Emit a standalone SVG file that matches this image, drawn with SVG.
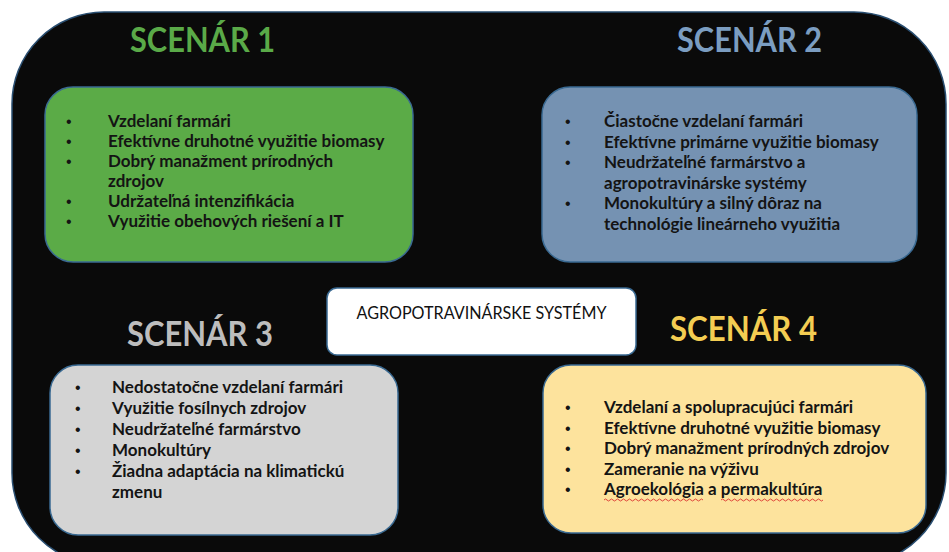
<svg xmlns="http://www.w3.org/2000/svg" width="949" height="552" viewBox="0 0 949 552">
<style>
.box{stroke:#3a6a92;stroke-width:1.5}
.title{font-family:Lato,"Open Sans","Liberation Sans",sans-serif;font-weight:bold;font-size:35px}
.item{font-family:Lato,"Open Sans","Liberation Sans",sans-serif;font-weight:bold;font-size:17px;fill:#141414}
.bul{font-family:"Liberation Sans",sans-serif;font-size:16px;fill:#141414}
.center{font-family:Lato,"Liberation Sans",sans-serif;font-size:17px;fill:#111}
.squig{fill:none;stroke:#e0443a;stroke-width:1}
</style>
<rect width="949" height="552" fill="#ffffff"/>
<g id="frame">
<rect x="12" y="12" width="934" height="553" rx="92" ry="92" fill="#0a0a0a" stroke="#2a4f72" stroke-width="1.5"/>
</g>
<g id="connectors"></g>
<g id="scenar1">
<text class="title" x="130" y="52" fill="#5aaa48" textLength="145" lengthAdjust="spacingAndGlyphs">SCENÁR 1</text>
<rect class="box" x="45" y="87" width="368" height="175" rx="28" fill="#5bab47"/>
<text class="bul" x="66" y="127">•</text>
<text class="bul" x="66" y="147">•</text>
<text class="bul" x="66" y="167">•</text>
<text class="bul" x="66" y="207">•</text>
<text class="bul" x="66" y="227">•</text>
<text class="item" x="108" y="127">Vzdelaní farmári</text>
<text class="item" x="108" y="147">Efektívne druhotné využitie biomasy</text>
<text class="item" x="108" y="167">Dobrý manažment prírodných</text>
<text class="item" x="108" y="187">zdrojov</text>
<text class="item" x="108" y="207">Udržateľná intenzifikácia</text>
<text class="item" x="108" y="227">Využitie obehových riešení a IT</text>
</g>
<g id="scenar2">
<text class="title" x="677" y="52" fill="#7b9dc1" textLength="145" lengthAdjust="spacingAndGlyphs">SCENÁR 2</text>
<rect class="box" x="542" y="87" width="375" height="175" rx="28" fill="#7592b2"/>
<text class="bul" x="565" y="127">•</text>
<text class="bul" x="565" y="147.5">•</text>
<text class="bul" x="565" y="168">•</text>
<text class="bul" x="565" y="209">•</text>
<text class="item" x="604" y="127">Čiastočne vzdelaní farmári</text>
<text class="item" x="604" y="147.5">Efektívne primárne využitie biomasy</text>
<text class="item" x="604" y="168">Neudržateľné farmárstvo a</text>
<text class="item" x="604" y="188.5">agropotravinárske systémy</text>
<text class="item" x="604" y="209">Monokultúry a silný dôraz na</text>
<text class="item" x="604" y="229.5">technológie lineárneho využitia</text>
</g>
<g id="center">
<rect x="327" y="288" width="309" height="67" rx="10" fill="#ffffff" stroke="#3a6a92" stroke-width="1.5"/>
<text class="center" x="481.5" y="319" text-anchor="middle" textLength="250" lengthAdjust="spacingAndGlyphs">AGROPOTRAVINÁRSKE SYSTÉMY</text>
</g>
<g id="scenar3">
<text class="title" x="127" y="346" fill="#bdbdbd" textLength="146" lengthAdjust="spacingAndGlyphs">SCENÁR 3</text>
<rect class="box" x="50" y="365" width="348" height="170" rx="28" fill="#d4d4d4"/>
<text class="bul" x="75" y="393">•</text>
<text class="bul" x="75" y="414">•</text>
<text class="bul" x="75" y="435">•</text>
<text class="bul" x="75" y="456">•</text>
<text class="bul" x="75" y="477">•</text>
<text class="item" x="112" y="393">Nedostatočne vzdelaní farmári</text>
<text class="item" x="112" y="414">Využitie fosílnych zdrojov</text>
<text class="item" x="112" y="435">Neudržateľné farmárstvo</text>
<text class="item" x="112" y="456">Monokultúry</text>
<text class="item" x="112" y="477">Žiadna adaptácia na klimatickú</text>
<text class="item" x="112" y="498">zmenu</text>
</g>
<g id="scenar4">
<text class="title" x="670" y="341" fill="#f4cd52" textLength="147" lengthAdjust="spacingAndGlyphs">SCENÁR 4</text>
<rect class="box" x="543" y="365" width="383" height="168" rx="28" fill="#fde39d"/>
<text class="bul" x="565" y="413">•</text>
<text class="bul" x="565" y="433.5">•</text>
<text class="bul" x="565" y="454">•</text>
<text class="bul" x="565" y="474.5">•</text>
<text class="bul" x="565" y="495">•</text>
<text class="item" x="604" y="413">Vzdelaní a spolupracujúci farmári</text>
<text class="item" x="604" y="433.5">Efektívne druhotné využitie biomasy</text>
<text class="item" x="604" y="454">Dobrý manažment prírodných zdrojov</text>
<text class="item" x="604" y="474.5">Zameranie na výživu</text>
<text class="item" x="604" y="495">Agroekológia a permakultúra</text>
<path class="squig" d="M604 500 q1.5 -2 3 0 t3 0 t3 0 t3 0 t3 0 t3 0 t3 0 t3 0 t3 0 t3 0 t3 0 t3 0 t3 0 t3 0 t3 0 t3 0 t3 0 t3 0 t3 0 t3 0 t3 0 t3 0 t3 0 t3 0 t3 0 t3 0 t3 0 t3 0 t3 0 t3 0 t3 0 t3 0 t3 0"/>
<path class="squig" d="M721 500 q1.5 -2 3 0 t3 0 t3 0 t3 0 t3 0 t3 0 t3 0 t3 0 t3 0 t3 0 t3 0 t3 0 t3 0 t3 0 t3 0 t3 0 t3 0 t3 0 t3 0 t3 0 t3 0 t3 0 t3 0 t3 0 t3 0 t3 0 t3 0 t3 0 t3 0 t3 0 t3 0 t3 0 t3 0 t3 0"/>
</g>
</svg>
